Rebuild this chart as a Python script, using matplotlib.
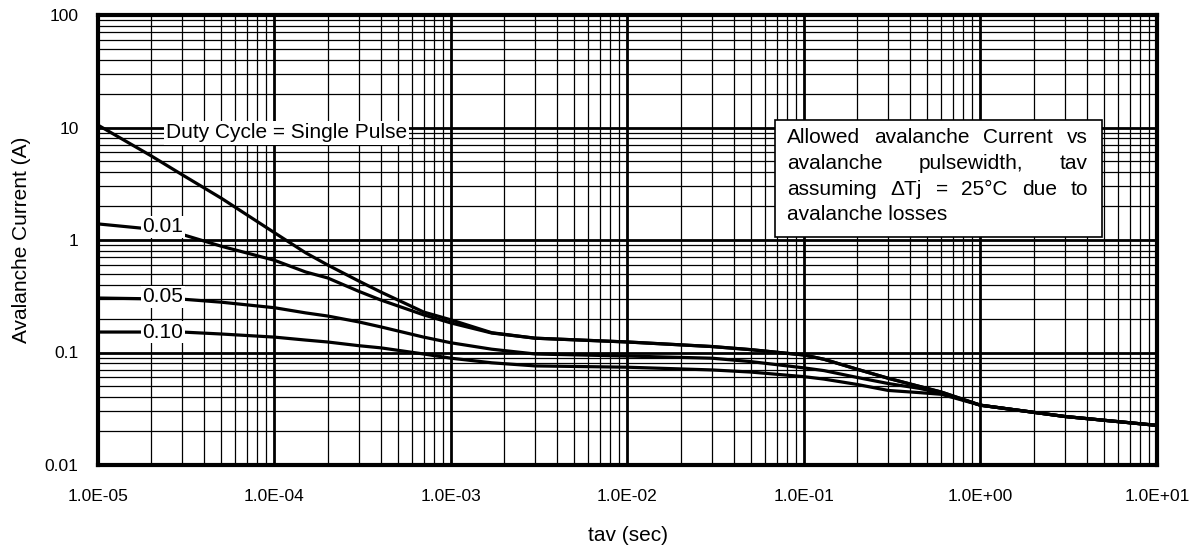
import matplotlib
matplotlib.use("Agg")
import matplotlib.pyplot as plt
from matplotlib.ticker import LogLocator, FixedLocator, FixedFormatter, NullFormatter
from matplotlib.patches import Rectangle

plt.rcParams['font.family'] = ['Liberation Sans', 'DejaVu Sans']

# ---- data ----
tav = [1e-5, 2e-5, 3e-5, 5e-5, 1e-4, 1.5e-4, 2e-4, 3e-4, 4e-4, 7e-4, 1e-3, 1.7e-3, 3e-3,
       1e-2, 3e-2, 5e-2, 1e-1, 1.3e-1, 2e-1, 3e-1, 4.5e-1, 6e-1, 1.0, 3.0, 10.0]
single_pulse = [10.5, 5.6, 3.8, 2.35, 1.16, 0.77, 0.60, 0.432, 0.345, 0.229, 0.195, 0.150, 0.134,
                0.124, 0.113, 0.106, 0.095, 0.087, 0.071, 0.059, 0.050, 0.0445, 0.034, 0.027, 0.0225]
duty_001 = [1.39, 1.25, 1.12, 0.88, 0.66, 0.52, 0.46, 0.35, 0.293, 0.216, 0.183, 0.149, 0.134,
            0.124, 0.113, 0.106, 0.095, 0.087, 0.071, 0.059, 0.050, 0.0445, 0.034, 0.027, 0.0225]
duty_005 = [0.305, 0.30, 0.298, 0.28, 0.25, 0.225, 0.211, 0.187, 0.169, 0.137, 0.122, 0.107, 0.097,
            0.093, 0.089, 0.083, 0.073, 0.069, 0.060, 0.053, 0.048, 0.0435, 0.034, 0.027, 0.0225]
duty_010 = [0.152, 0.152, 0.152, 0.146, 0.137, 0.129, 0.124, 0.115, 0.110, 0.097, 0.089, 0.081, 0.076,
            0.074, 0.070, 0.067, 0.061, 0.058, 0.052, 0.046, 0.044, 0.0425, 0.034, 0.027, 0.0225]

x_ticks = [1e-5, 1e-4, 1e-3, 1e-2, 1e-1, 1e0, 1e1]
x_ticklabels = ['1.0E-05', '1.0E-04', '1.0E-03', '1.0E-02', '1.0E-01', '1.0E+00', '1.0E+01']
y_ticks = [0.01, 0.1, 1, 10, 100]
y_ticklabels = ['0.01', '0.1', '1', '10', '100']

curve_labels = ['0.01', '0.05', '0.10']
note_lines = ["Allowed avalanche Current vs",
              "avalanche pulsewidth, tav",
              "assuming \u0394Tj = 25\u00b0C due to",
              "avalanche losses"]

# ---- figure ----
W, H = 1199, 546
fig = plt.figure(figsize=(W / 100, H / 100), dpi=100)
ax_l, ax_r, ax_t, ax_b = 98, 1157, 15, 465
ax = fig.add_axes([ax_l / W, (H - ax_b) / H, (ax_r - ax_l) / W, (ax_b - ax_t) / H])
ax.set_xscale('log')
ax.set_yscale('log')
ax.set_xlim(1e-5, 10)
ax.set_ylim(0.01, 100)

ax.xaxis.set_major_locator(FixedLocator(x_ticks))
ax.xaxis.set_major_formatter(FixedFormatter(x_ticklabels))
ax.yaxis.set_major_locator(FixedLocator(y_ticks))
ax.yaxis.set_major_formatter(FixedFormatter(y_ticklabels))
ax.xaxis.set_minor_locator(LogLocator(base=10, subs=range(2, 10), numticks=100))
ax.yaxis.set_minor_locator(LogLocator(base=10, subs=range(2, 10), numticks=100))
ax.xaxis.set_minor_formatter(NullFormatter())
ax.yaxis.set_minor_formatter(NullFormatter())

ax.set_axisbelow(True)
ax.grid(which='major', color='black', lw=2.0)
ax.grid(which='minor', color='black', lw=0.9)
ax.tick_params(which='both', length=0)
ax.tick_params(axis='x', pad=17, labelsize=12.5)
ax.tick_params(axis='y', pad=14, labelsize=12.5)
for s in ax.spines.values():
    s.set_linewidth(3)
    s.set_color('black')

for series in (single_pulse, duty_001, duty_005, duty_010):
    ax.plot(tav, series, color='black', lw=2.3, zorder=3, solid_capstyle='butt',
            solid_joinstyle='round')

ax.set_xlabel('tav (sec)', fontsize=15, labelpad=16)
ax.set_ylabel('Avalanche Current (A)', fontsize=15, labelpad=10)

def fx(px):
    return (px - ax_l) / (ax_r - ax_l)

def fy(py):
    return (ax_b - py) / (ax_b - ax_t)

white = dict(facecolor='white', edgecolor='none', pad=1.5)
ax.text(fx(166), fy(133), 'Duty Cycle = Single Pulse', transform=ax.transAxes,
        fontsize=15, ha='left', va='center', bbox=white, zorder=5)
for lab, py in zip(curve_labels, (227, 297, 332)):
    ax.text(fx(163), fy(py), lab, transform=ax.transAxes, fontsize=15,
            ha='center', va='center', bbox=dict(facecolor='white', edgecolor='none', pad=1.0), zorder=5)

# note box
ax.add_patch(Rectangle((fx(775), fy(237)), fx(1102) - fx(775), fy(120) - fy(237),
                       transform=ax.transAxes, facecolor='white', edgecolor='black',
                       lw=1.2, zorder=5))
fig.canvas.draw()
renderer = fig.canvas.get_renderer()
left_px, right_px = 787, 1088
baselines = [143, 169, 195, 220]
for i, (line, bpy) in enumerate(zip(note_lines, baselines)):
    words = line.split(' ')
    if i == len(note_lines) - 1:
        ax.text(fx(left_px), fy(bpy), line, transform=ax.transAxes, fontsize=15,
                ha='left', va='baseline', zorder=6)
        continue
    texts = [ax.text(0, fy(bpy), w, transform=ax.transAxes, fontsize=15,
                     ha='left', va='baseline', zorder=6) for w in words]
    widths = [t.get_window_extent(renderer).width for t in texts]
    gap = (right_px - left_px - sum(widths)) / (len(words) - 1)
    x = left_px
    for t, wd in zip(texts, widths):
        t.set_x(fx(x))
        x += wd + gap

fig.savefig('out.png', dpi=100)
